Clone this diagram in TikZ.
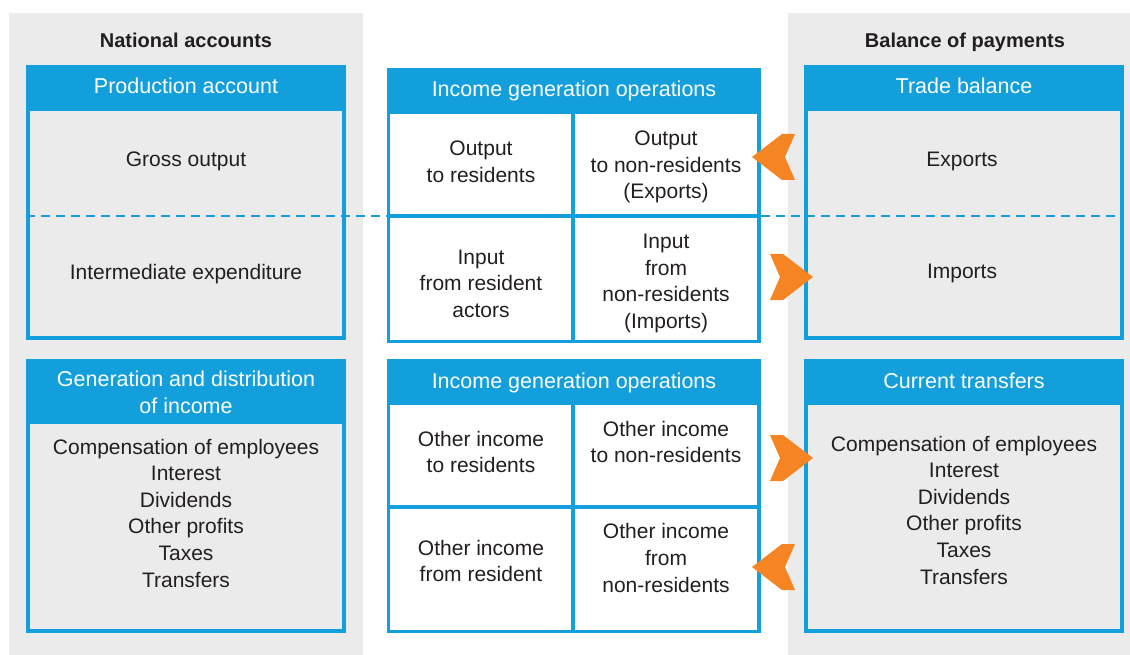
\documentclass[tikz,border=0pt]{standalone}
\usepackage{fontspec}
\setmainfont{Liberation Sans}
\usepackage{xcolor}
\usepackage{tikz}
\usetikzlibrary{positioning}
\definecolor{acctblue}{HTML}{139FDB}
\definecolor{panelgrey}{HTML}{EBEBEB}
\definecolor{floworange}{HTML}{F58423}
\definecolor{txtgrey}{HTML}{231F20}

\begin{document}
\begin{tikzpicture}[x=1pt, y=-1pt, font=\fontsize{21}{26.6}\selectfont, text=txtgrey,
		panel/.style={fill=panelgrey, inner sep=0pt, minimum height=642, anchor=north west},
		paneltitle/.style={font=\fontsize{20}{24}\selectfont\bfseries},
		hdr/.style={fill=acctblue, text=white, inner sep=0pt, minimum width=#1, minimum height=42, align=center, text height=16pt, text depth=0pt, font=\fontsize{21.5}{26.6}\selectfont},
		acctbody/.style={draw=acctblue, line width=4pt, fill=panelgrey, minimum width=316},
		cell/.style={draw=acctblue, line width=3.5pt, fill=white, inner sep=0pt},
		entry/.style={align=center},
		divider/.style={draw=acctblue, line width=2.5pt, dash pattern=on 9pt off 6pt},
		pics/chevron/.style={code={\fill[floworange] (0,0) -- (30,-23) -- (43,-23) -- (33,0) -- (43,23) -- (30,23) -- cycle;}}]
		\useasboundingbox (0,0) rectangle (1130,655);
		% grey panels
		\node[panel, minimum width=354] (napanel) at (9,13) {};
		\node[panel, minimum width=342] (bppanel) at (788,13) {};
		\node[paneltitle] (natitle) at (186,40) {National accounts};
		\node[paneltitle] (bptitle) at (965,42) {Balance of payments};
		% national accounts
		\node[hdr=320] (prodhead) at (186,86) {Production account};
		\node[acctbody, minimum height=229, below=0pt of prodhead] (prodbody) {};
		\node[entry] (grossout) at (186,161) {Gross output};
		\node[entry] (interexp) at (186,274) {Intermediate expenditure};
		\node[hdr=320, minimum height=61, text height=48pt] (genhead) at (186,389.5) {Generation and distribution\\of income};
		\node[acctbody, minimum height=209, below=0pt of genhead] (genbody) {};
		\node[entry] (genlist) at (186,513) {Compensation of employees\\Interest\\Dividends\\Other profits\\Taxes\\Transfers};
		% income generation operations
		\node[hdr=374] (opshead) at (574,89) {Income generation operations};
		\node[cell, minimum width=184.25, minimum height=104.25, anchor=north west] (outres) at (opshead.south west) {};
		\node[cell, minimum width=186.25, minimum height=104.25, right=-3.5pt of outres] (outnonres) {};
		\node[cell, minimum width=184.25, minimum height=125.25, below=-3.5pt of outres] (inres) {};
		\node[cell, minimum width=186.25, minimum height=125.25, right=-3.5pt of inres] (innonres) {};
		\node[entry] at (481,161.5) {Output\\to residents};
		\node[entry] at (666,167) {Output\\to non-residents\\(Exports)};
		\node[entry] at (481,283.5) {Input\\from resident\\actors};
		\node[entry] at (666,283.5) {Input\\from\\non-residents\\(Imports)};
		\node[hdr=374] (opshead2) at (574,380) {Income generation operations};
		\node[cell, minimum width=184.25, minimum height=104.25, anchor=north west] (othres) at (opshead2.south west) {};
		\node[cell, minimum width=186.25, minimum height=104.25, right=-3.5pt of othres] (othnonres) {};
		\node[cell, minimum width=184.25, minimum height=124.25, below=-3.5pt of othres] (othfromres) {};
		\node[cell, minimum width=186.25, minimum height=124.25, right=-3.5pt of othfromres] (othfromnonres) {};
		\node[entry] at (481,452) {Other income\\to residents};
		\node[entry] at (666,442) {Other income\\to non-residents};
		\node[entry] at (481,561) {Other income\\from resident};
		\node[entry] at (666,558) {Other income\\from\\non-residents};
		% balance of payments
		\node[hdr=320] (tradehead) at (964,86) {Trade balance};
		\node[acctbody, minimum height=229, below=0pt of tradehead] (tradebody) {};
		\node[entry] (exports) at (962,161) {Exports};
		\node[entry] (imports) at (962,273) {Imports};
		\node[hdr=320] (transhead) at (964,380) {Current transfers};
		\node[acctbody, minimum height=228, below=0pt of transhead] (transbody) {};
		\node[entry] (translist) at (964,510) {Compensation of employees\\Interest\\Dividends\\Other profits\\Taxes\\Transfers};
		% split between output and input
		\draw[divider] (prodbody.west |- 0,216) -- (tradebody.east |- 0,216);
		% flows
		\pic at (752,157) {chevron};
		\pic[xscale=-1] at (813,277) {chevron};
		\pic[xscale=-1] at (813,458) {chevron};
		\pic at (752,567) {chevron};
	\end{tikzpicture}
\end{document}
